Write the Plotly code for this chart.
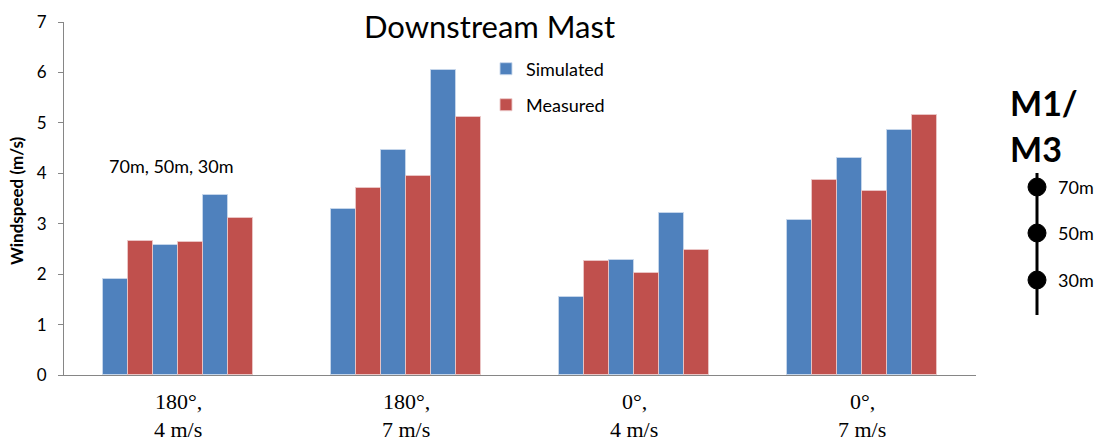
import plotly.graph_objects as go

# ---- data ----
directions = ["180°,", "180°,", "0°,", "0°,"]
speeds = ["4 m/s", "7 m/s", "4 m/s", "7 m/s"]
heights = ["70m", "50m", "30m"]
simulated = [
    [1.91, 2.57, 3.56],
    [3.29, 4.46, 6.05],
    [1.54, 2.29, 3.22],
    [3.08, 4.31, 4.85],
]
measured = [
    [2.66, 2.64, 3.11],
    [3.71, 3.95, 5.12],
    [2.26, 2.02, 2.47],
    [3.86, 3.65, 5.15],
]

BLUE = "#4F81BD"
RED = "#C0504D"
AXIS = "#868686"
FONT = "Lato"

n_slots = 6
group_frac = 0.662
w = group_frac / n_slots

sim_x, sim_y, mea_x, mea_y = [], [], [], []
for g in range(len(directions)):
    for k in range(len(heights)):
        js = 2 * k
        jm = 2 * k + 1
        sim_x.append(g + (js - (n_slots - 1) / 2) * w)
        sim_y.append(simulated[g][k])
        mea_x.append(g + (jm - (n_slots - 1) / 2) * w)
        mea_y.append(measured[g][k])

fig = go.Figure()
fig.add_trace(go.Bar(x=sim_x, y=sim_y, width=w, name="Simulated",
                     marker=dict(color=BLUE, line=dict(color="rgba(200,215,235,0.9)", width=1)),
                     legend="legend"))
fig.add_trace(go.Bar(x=mea_x, y=mea_y, width=w, name="Measured",
                     marker=dict(color=RED, line=dict(color="rgba(235,200,200,0.9)", width=1)),
                     legend="legend2"))

L, R, T, B = 64, 121, 22, 68
W, H = 1097, 443
pw, ph = W - L - R, H - T - B

def py(pix):
    return (H - B - pix) / ph

def px(pix):
    return (pix - L) / pw

SERIF = dict(family="Liberation Serif", size=22, color="#000")
annotations = []
# category labels (two lines)
for g in range(len(directions)):
    annotations.append(dict(x=g, y=py(402), xref="x", yref="paper", text=directions[g],
                            showarrow=False, font=SERIF, xanchor="center", yanchor="middle"))
    annotations.append(dict(x=g, y=py(429), xref="x", yref="paper", text=speeds[g],
                            showarrow=False, font=SERIF, xanchor="center", yanchor="middle"))

annotations += [
    dict(x=px(489), y=py(26), xref="paper", yref="paper", text="Downstream Mast", showarrow=False,
         font=dict(family=FONT, size=31, color="#000"), xanchor="center", yanchor="middle"),
    dict(x=px(171), y=py(166), xref="paper", yref="paper", text=", ".join(heights), showarrow=False,
         font=dict(family=FONT, size=18, color="#000"), xanchor="center", yanchor="middle"),
    dict(x=px(17), y=py(201), xref="paper", yref="paper", text="<b>Windspeed (m/s)</b>", showarrow=False,
         textangle=-90, font=dict(family=FONT, size=17, color="#000"), xanchor="center", yanchor="middle"),
    dict(x=px(1008), y=py(102), xref="paper", yref="paper", text="<b>M1/</b>", showarrow=False,
         font=dict(family=FONT, size=34, color="#000"), xanchor="left", yanchor="middle"),
    dict(x=px(1008), y=py(148), xref="paper", yref="paper", text="<b>M3</b>", showarrow=False,
         font=dict(family=FONT, size=34, color="#000"), xanchor="left", yanchor="middle"),
]

shapes = [dict(type="line", xref="paper", yref="paper", x0=px(1037), x1=px(1037), y0=py(173), y1=py(315),
               line=dict(color="#000", width=3))]
dot_y = [187, 233, 280]
for hgt, yy in zip(heights, dot_y):
    shapes.append(dict(type="circle", xref="paper", yref="paper", xsizemode="pixel", ysizemode="pixel",
                       xanchor=px(1037), yanchor=py(yy), x0=-9, x1=9, y0=-9, y1=9,
                       fillcolor="#000", line=dict(color="#000", width=1)))
    annotations.append(dict(x=px(1056), y=py(yy), xref="paper", yref="paper", text=hgt, showarrow=False,
                            font=dict(family=FONT, size=18, color="#000"), xanchor="left", yanchor="middle"))

leg_common = dict(xanchor="left", yanchor="middle", bgcolor="rgba(0,0,0,0)",
                  font=dict(family=FONT, size=18, color="#000"), itemwidth=30)

fig.update_layout(
    width=W, height=H,
    margin=dict(l=L, r=R, t=T, b=B, pad=0),
    paper_bgcolor="white", plot_bgcolor="white",
    barmode="overlay", bargap=0,
    showlegend=True,
    legend=dict(x=px(486), y=py(69), **leg_common),
    legend2=dict(x=px(486), y=py(105), **leg_common),
    xaxis=dict(range=[-0.5, 3.5], showticklabels=False, showgrid=False, zeroline=False,
               showline=True, linecolor=AXIS, linewidth=1, ticks=""),
    yaxis=dict(range=[0, 7], dtick=1, showgrid=False, zeroline=False, showline=True,
               linecolor=AXIS, linewidth=1, ticks="outside", ticklen=5, tickcolor=AXIS,
               ticklabelstandoff=8,
               tickfont=dict(family=FONT, size=17, color="#000")),
    annotations=annotations, shapes=shapes,
)

fig.write_html("out.html")
